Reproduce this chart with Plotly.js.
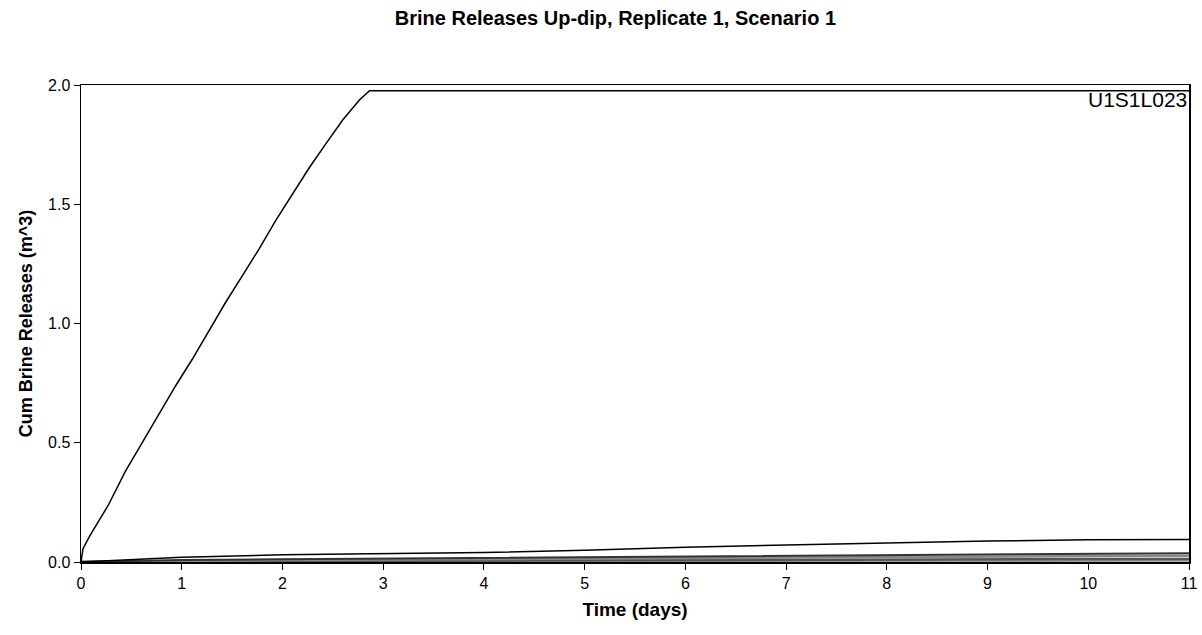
<!DOCTYPE html>
<html>
<head>
<meta charset="utf-8">
<script src="https://cdn.plot.ly/plotly-3.0.1.min.js"></script>
<style>html,body{margin:0;padding:0;background:#fff;}#chart{width:1202px;height:635px;}</style>
</head>
<body>
<div id="chart"></div>
<script>
// Main release curve (U1S1L023)
const mainTime = [0, 0.02, 0.09, 0.272, 0.439, 0.605, 0.771, 0.937, 1.103, 1.269, 1.435, 1.601, 1.767, 1.934, 2.10, 2.266, 2.432, 2.598, 2.764, 2.864, 3.5, 5, 7, 9, 11];
const mainValues = [0, 0.056, 0.112, 0.239, 0.379, 0.498, 0.618, 0.737, 0.849, 0.968, 1.088, 1.20, 1.312, 1.432, 1.544, 1.653, 1.754, 1.853, 1.937, 1.976, 1.976, 1.976, 1.976, 1.976, 1.976];

// Other vectors near zero
const lowTime = [0, 1, 2, 3, 4, 5, 6, 7, 8, 9, 10, 11];
const lowA = [0, 0.02, 0.03, 0.035, 0.04, 0.049, 0.062, 0.071, 0.08, 0.088, 0.093, 0.094];
const lowB = [0, 0.008, 0.012, 0.015, 0.018, 0.021, 0.024, 0.027, 0.030, 0.032, 0.035, 0.037];
const lowC = [0, 0.005, 0.008, 0.010, 0.012, 0.014, 0.016, 0.018, 0.020, 0.022, 0.024, 0.026];
const lowD = [0, 0.003, 0.004, 0.005, 0.006, 0.007, 0.008, 0.009, 0.010, 0.011, 0.012, 0.013];
const lowE = [0, 0.001, 0.002, 0.002, 0.003, 0.003, 0.004, 0.004, 0.005, 0.005, 0.006, 0.006];

const xTicks = [0,1,2,3,4,5,6,7,8,9,10,11];
const yTicks = [0, 0.5, 1.0, 1.5, 2.0];
const yTickText = ['0.0','0.5','1.0','1.5','2.0'];

const traces = [
  {x: lowTime, y: lowE, mode: 'lines', line: {color: '#999', width: 2.5}},
  {x: lowTime, y: lowD, mode: 'lines', line: {color: '#555', width: 2.5}},
  {x: lowTime, y: lowC, mode: 'lines', line: {color: '#888', width: 2.5}},
  {x: lowTime, y: lowB, mode: 'lines', line: {color: '#333', width: 2}},
  {x: lowTime, y: lowA, mode: 'lines', line: {color: '#000', width: 1.5}},
  {x: mainTime, y: mainValues, mode: 'lines', line: {color: '#000', width: 1.5}}
];

const layout = {
  width: 1202, height: 635,
  margin: {l: 81, r: 13, t: 85, b: 73},
  paper_bgcolor: '#fff', plot_bgcolor: '#fff',
  showlegend: false,
  font: {family: 'Arial, Liberation Sans, sans-serif', color: '#000'},
  title: {text: '<b>Brine Releases Up-dip, Replicate 1, Scenario 1</b>', x: 0.512, xanchor: 'center', y: 0.972, yanchor: 'middle', font: {size: 20, color: '#000'}},
  xaxis: {
    range: [0, 11], tickvals: xTicks, ticktext: xTicks.map(String),
    showgrid: false, zeroline: false, showline: true, linecolor: '#000', linewidth: 1.5, mirror: true,
    ticks: 'outside', ticklen: 6, tickcolor: '#000', tickwidth: 1,
    tickfont: {size: 16},
    title: {text: '<b>Time (days)</b>', font: {size: 19}, standoff: 12}
  },
  yaxis: {
    range: [0, 2], tickvals: yTicks, ticktext: yTickText,
    showgrid: false, zeroline: false, showline: true, linecolor: '#000', linewidth: 1.5, mirror: true,
    ticks: 'outside', ticklen: 6, tickcolor: '#000', tickwidth: 1,
    tickfont: {size: 16},
    title: {text: '<b>Cum Brine Releases (m^3)</b>', font: {size: 18}, standoff: 10}
  },
  annotations: [{
    xref: 'paper', yref: 'paper', x: 1, y: 1, xanchor: 'right', yanchor: 'top',
    text: 'U1S1L023', showarrow: false, font: {size: 21, color: '#000'}, xshift: 0, yshift: -1
  }]
};

Plotly.newPlot('chart', traces, layout, {displayModeBar: false, staticPlot: true});
</script>
</body>
</html>
